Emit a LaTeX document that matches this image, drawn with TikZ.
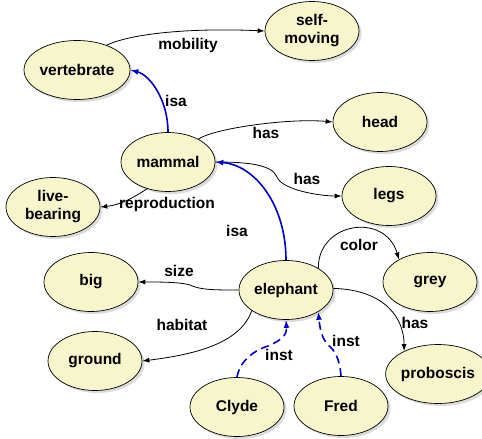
\documentclass[tikz,border=0pt]{standalone}
\usepackage{fontspec}
\setmainfont{Liberation Sans}
\usetikzlibrary{shapes.geometric,arrows.meta,shadows}
\definecolor{nodefill}{RGB}{246,245,204}
\definecolor{isablue}{RGB}{0,0,204}
\begin{document}
\begin{tikzpicture}[x=1pt,y=-1pt,
  concept/.style={ellipse,draw=black,line width=0.7pt,fill=nodefill,
    minimum width=94pt,minimum height=59pt,inner sep=0pt,align=center,
    font=\fontsize{15.5}{18}\selectfont\bfseries,
    drop shadow={shadow xshift=2.5pt,shadow yshift=-2.5pt,fill=black!28}},
  lbl/.style={inner sep=0pt,font=\fontsize{15.5}{18}\selectfont\bfseries},
  rel/.style={draw=black,line width=0.8pt,-{Latex[length=7pt,width=5pt]}},
  isarel/.style={draw=isablue,line width=1.6pt,-{Latex[length=8pt,width=6pt]}},
  instrel/.style={isarel,dash pattern=on 8pt off 5pt}]
\useasboundingbox (0,0) rectangle (482,439);

% concepts
\node[concept] (vert)   at (77,70)   {vertebrate};
\node[concept] (self)   at (312,31)  {self-\\moving};
\node[concept] (head)   at (380,122) {head};
\node[concept] (mam)    at (168,162) {mammal};
\node[concept] (live)   at (53,207)  {live-\\bearing};
\node[concept] (legs)   at (389,196) {legs};
\node[concept] (grey)   at (430,282) {grey};
\node[concept] (big)    at (91,282)  {big};
\node[concept] (ele)    at (286,290) {elephant};
\node[concept] (ground) at (95,361)  {ground};
\node[concept] (prob)   at (438,374) {proboscis};
\node[concept] (clyde)  at (237,407) {Clyde};
\node[concept] (fred)   at (341,406) {Fred};

% relations
\draw[rel] (vert.40) .. controls (135,32) and (200,28) .. (self.west);
\draw[isarel] (mam.north) .. controls (168,100) and (150,75) .. (vert.east);
\draw[rel] (mam.37) .. controls (215,128) and (290,118) .. (head.west);
\draw[rel] (mam.east) .. controls (250,162) and (272,165) .. (277,177)
   .. controls (282,190) and (320,196) .. (legs.west);
\draw[rel] (mam.232) .. controls (133,198) and (120,205) .. (live.east);
\draw[isarel] (ele.north) .. controls (286,205) and (255,165) .. (mam.east);
\draw[rel] (ele.34) .. controls (318,222) and (385,212) .. (grey.144);
\draw[rel] (ele.west) .. controls (215,290) and (200,290) .. (190,285)
   .. controls (180,282) and (160,282) .. (big.east);
\draw[rel] (ele.211) .. controls (240,345) and (190,355) .. (ground.east);
\draw[rel] (ele.2) .. controls (385,290) and (404,318) .. (prob.146);
\draw[instrel] (clyde.north) .. controls (240,360) and (255,350) .. (268,346)
   .. controls (282,340) and (287,335) .. (ele.south);
\draw[instrel] (fred.north) .. controls (340,360) and (335,350) .. (328,345)
   .. controls (322,338) and (320,330) .. (ele.326);

% labels
\node[lbl] (lmob)   at (188,45)  {mobility};
\node[lbl] (lisa1)  at (176,101) {isa};
\node[lbl] (lhas1)  at (266,133) {has};
\node[lbl] (lrep)   at (167,204) {reproduction};
\node[lbl] (lhas2)  at (307,179) {has};
\node[lbl] (lisa2)  at (237,231) {isa};
\node[lbl] (lcol)   at (359,245) {color};
\node[lbl] (lsize)  at (179,271) {size};
\node[lbl] (lhab)   at (182,325) {habitat};
\node[lbl] (lhas3)  at (415,323) {has};
\node[lbl] (linst1) at (279,355) {inst};
\node[lbl] (linst2) at (346,341) {inst};
\end{tikzpicture}
\end{document}
